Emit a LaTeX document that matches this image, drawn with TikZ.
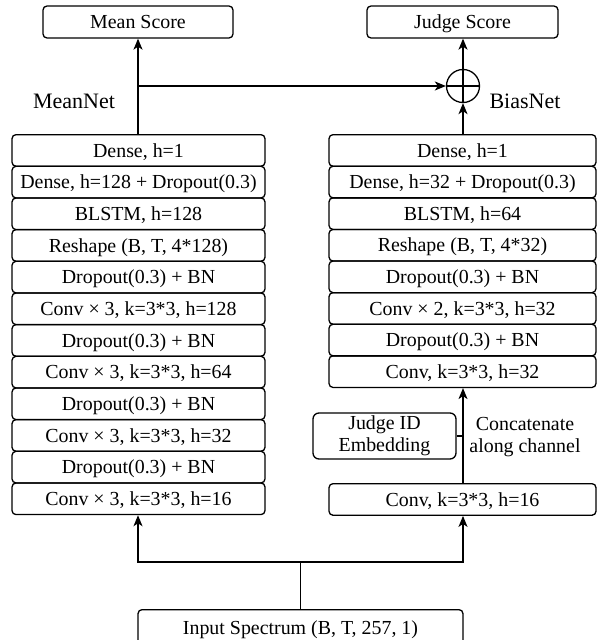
\documentclass[tikz,border=0pt]{standalone}
\usepackage{fontspec}
\setmainfont{Liberation Serif}
\usetikzlibrary{arrows.meta,calc}
\begin{document}
\begin{tikzpicture}[x=1pt,y=-1pt,
  line width=1.3pt,
  every node/.style={font=\fontsize{19.9}{23.5}\selectfont},
  capc/.style={text height=13.2pt,text depth=0pt},
  layer/.style={draw,capc,rounded corners=4pt,minimum height=31.6pt,inner sep=0pt,anchor=north},
  lbox/.style={layer,minimum width=253pt},
  rbox/.style={layer,minimum width=267pt},
  toparrow/.style={-{Stealth[length=11pt,width=9pt,inset=3pt]}},
  lab/.style={font=\fontsize{22}{26}\selectfont}]
\useasboundingbox (0,0) rectangle (597,640);
% left column
\foreach \i/\t in {1/{Dense, h=1},2/{Dense, h=128 + Dropout(0.3)},3/{BLSTM, h=128},4/{Reshape (B, T, 4*128)},5/{Dropout(0.3) + BN},6/{Conv × 3, k=3*3, h=128},7/{Dropout(0.3) + BN},8/{Conv × 3, k=3*3, h=64},9/{Dropout(0.3) + BN},10/{Conv × 3, k=3*3, h=32},11/{Dropout(0.3) + BN},12/{Conv × 3, k=3*3, h=16}}
  \node[lbox] (L\i) at (138.5,{134+(\i-1)*31.667}) {\t};
% right column
\foreach \i/\t in {1/{Dense, h=1},2/{Dense, h=32 + Dropout(0.3)},3/{BLSTM, h=64},4/{Reshape (B, T, 4*32)},5/{Dropout(0.3) + BN},6/{Conv × 2, k=3*3, h=32},7/{Dropout(0.3) + BN},8/{Conv, k=3*3, h=32}}
  \node[rbox] (R\i) at (462.5,{134+(\i-1)*31.6}) {\t};
\node[rbox] (R9) at (462.5,483) {Conv, k=3*3, h=16};
% outputs
\node[draw,capc,rounded corners=4pt,minimum width=190pt,minimum height=32pt,inner sep=0pt] (mean) at (138,22) {Mean Score};
\node[draw,capc,rounded corners=4pt,minimum width=191pt,minimum height=32pt,inner sep=0pt] (judge) at (462.5,22) {Judge Score};
\node[draw,circle,minimum size=33pt,inner sep=0pt] (plus) at (463,86) {};
\draw (plus.north) -- (plus.south) (plus.west) -- (plus.east);
% input
\node[draw,capc,rounded corners=4pt,minimum width=325pt,minimum height=36pt,inner sep=0pt,anchor=north] (inp) at (300.5,609) {Input Spectrum (B, T, 257, 1)};
% judge id
\node[draw,rounded corners=6pt,minimum width=143pt,minimum height=46pt,inner sep=0pt,align=center] (jid) at (384.5,436) {Judge ID\\[-1.5pt]Embedding};
\node[align=center] (cat) at (525,437) {Concatenate\\[-1.5pt]along channel};
% labels
\node[lab] (mn) at (74,101) {MeanNet};
\node[lab] (bn) at (525,101) {BiasNet};
% connectors
\coordinate (split) at (138,86);
\coordinate (fork) at (300.5,562);
\draw[toparrow] (L1.north -| split) -- (mean.south -| split);
\draw[toparrow] (split) -- (plus.west);
\draw[toparrow] (R1.north -| plus) -- (plus.south);
\draw[toparrow] (plus.north) -- (judge.south -| plus);
\draw (inp.north) -- (fork);
\draw[toparrow] (fork) -| (L12.south -| split);
\draw[toparrow] (fork) -| (R9.south -| plus);
\draw[toparrow] (R9.north -| plus) -- (R8.south -| plus);
\draw (jid.east) -- (jid.east -| plus);
\end{tikzpicture}
\end{document}
